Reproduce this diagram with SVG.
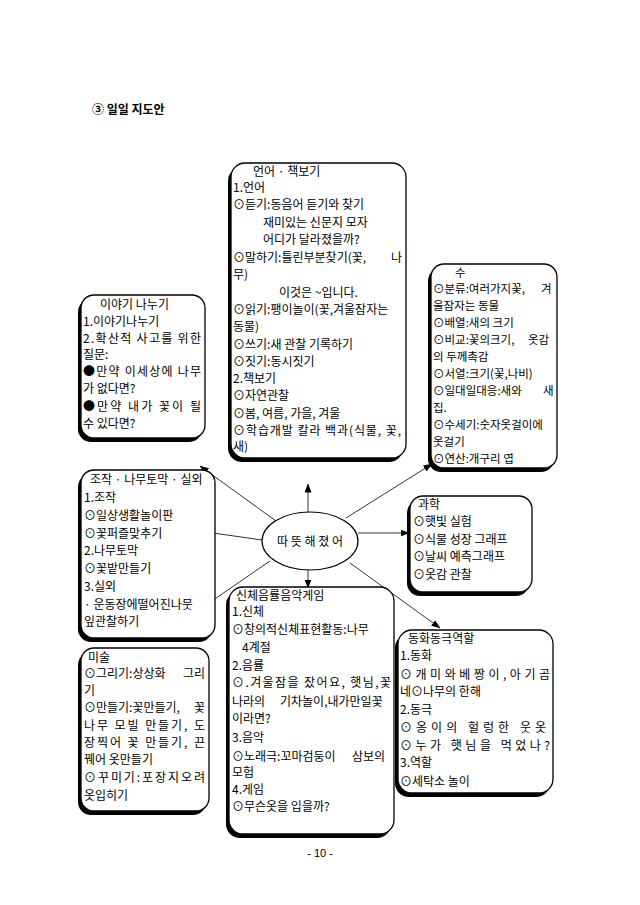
<svg xmlns="http://www.w3.org/2000/svg" width="640" height="905" viewBox="0 0 640 905">
<style>
.t{font-family:"Noto Sans CJK KR","Noto Sans",sans-serif;font-size:12px;fill:#000}
.s{font-size:11.5px}
.box{fill:#fff;stroke:#000;stroke-width:1.3}
.sh{fill:#000}
.ln{stroke:#333;stroke-width:1;fill:none;marker-end:url(#ah)}
</style>
<defs>
<marker id="ah" markerWidth="9" markerHeight="7" refX="8.5" refY="3.5" orient="auto" markerUnits="userSpaceOnUse">
<path d="M0,0 L9,3.5 L0,7 Z" fill="#000"/>
</marker>
</defs>
<rect width="640" height="905" fill="#fff"/>
<text class="t" x="92" y="114" font-weight="bold">③ 일일 지도안</text>

<g id="connectors">
<path class="ln" d="M308,512 L308,484"/>
<path class="ln" d="M346,518 L432,464"/>
<path class="ln" d="M358,533 L409,533"/>
<path class="ln" d="M350,563 L440,628"/>
<path class="ln" d="M308,570 L308,588"/>
<path class="ln" d="M270,561 L158,638"/>
<path class="ln" d="M262,540 L206,532"/>
<path class="ln" d="M276,521 L200,466"/>
</g>

<g id="center">
<ellipse cx="310" cy="541" rx="48" ry="29" fill="#fff" stroke="#000" stroke-width="1.2"/>
<text class="t" x="310" y="546" text-anchor="middle" font-size="11">따 뜻 해 졌 어</text>
</g>

<g id="lang">
<rect class="sh" x="228" y="167" width="175" height="295" rx="14"/>
<rect class="box" x="231" y="163" width="175" height="295" rx="14"/>
<text class="t" x="253" y="176">언어 · 책보기</text>
<text class="t" x="233" y="192">1.언어</text>
<text class="t" x="233" y="209">⊙듣기:동음어 듣기와 찾기</text>
<text class="t" x="263" y="227">재미있는 신문지 모자</text>
<text class="t" x="263" y="244">어디가 달라졌을까?</text>
<text class="t" x="233" y="262">⊙말하기:틀린부분찾기(꽃,<tspan x="391">나</tspan></text>
<text class="t" x="233" y="279">무)</text>
<text class="t" x="279" y="297">이것은 ~입니다.</text>
<text class="t" x="233" y="314">⊙읽기:팽이놀이(꽃,겨울잠자는</text>
<text class="t" x="233" y="331">동물)</text>
<text class="t" x="233" y="349">⊙쓰기:새 관찰 기록하기</text>
<text class="t" x="233" y="366">⊙짓기:동시짓기</text>
<text class="t" x="233" y="383">2.책보기</text>
<text class="t" x="233" y="400">⊙자연관찰</text>
<text class="t" x="233" y="418">⊙봄, 여름, 가을, 겨울</text>
<text class="t" x="233" y="435" textLength="168" lengthAdjust="spacing">⊙학습개발 칼라 백과(식물, 꽃,</text>
<text class="t" x="233" y="451">새)</text>
</g>

<g id="math">
<rect class="sh" x="428" y="268" width="126" height="204" rx="13"/>
<rect class="box" x="431" y="264" width="126" height="204" rx="13"/>
<text class="t s" x="455" y="277">수</text>
<text class="t s" x="433" y="293">⊙분류:여러가지꽃,<tspan x="541">겨</tspan></text>
<text class="t s" x="433" y="310">울잠자는 동물</text>
<text class="t s" x="433" y="327">⊙배열:새의 크기</text>
<text class="t s" x="433" y="344">⊙비교:꽃의크기,<tspan x="528">옷감</tspan></text>
<text class="t s" x="433" y="361">의 두께촉감</text>
<text class="t s" x="433" y="378">⊙서열:크기(꽃,나비)</text>
<text class="t s" x="433" y="395">⊙일대일대응:새와<tspan x="543">새</tspan></text>
<text class="t s" x="433" y="412">집.</text>
<text class="t s" x="433" y="429">⊙수세기:숫자옷걸이에</text>
<text class="t s" x="433" y="446">옷걸기</text>
<text class="t s" x="433" y="463">⊙연산:개구리 엽</text>
</g>

<g id="talk">
<rect class="sh" x="78" y="299" width="124" height="143" rx="13"/>
<rect class="box" x="81" y="295" width="124" height="143" rx="13"/>
<text class="t" x="100" y="309">이야기 나누기</text>
<text class="t" x="83" y="326">1.이야기나누기</text>
<text class="t" x="83" y="343" textLength="118" lengthAdjust="spacing">2.확산적 사고를 위한</text>
<text class="t" x="83" y="359">질문:</text>
<text class="t" x="83" y="376" textLength="118" lengthAdjust="spacing">●만약 이세상에 나무</text>
<text class="t" x="83" y="393">가 없다면?</text>
<text class="t" x="83" y="411" textLength="118" lengthAdjust="spacing">●만약 내가 꽃이 될</text>
<text class="t" x="83" y="428">수 있다면?</text>
</g>

<g id="manip">
<rect class="sh" x="78" y="474" width="134" height="168" rx="13"/>
<rect class="box" x="81" y="470" width="134" height="168" rx="13"/>
<text class="t" x="90" y="484">조작 · 나무토막 · 실외</text>
<text class="t" x="84" y="502">1.조작</text>
<text class="t" x="84" y="520">⊙일상생활놀이판</text>
<text class="t" x="84" y="538">⊙꽃퍼즐맞추기</text>
<text class="t" x="84" y="555">2.나무토막</text>
<text class="t" x="84" y="573">⊙꽃밭만들기</text>
<text class="t" x="84" y="591">3.실외</text>
<text class="t" x="84" y="609"> · 운동장에떨어진나뭇</text>
<text class="t" x="84" y="626">잎관찰하기</text>
</g>

<g id="science">
<rect class="sh" x="407" y="500" width="122" height="96" rx="13"/>
<rect class="box" x="410" y="496" width="122" height="96" rx="13"/>
<text class="t" x="418" y="509">과학</text>
<text class="t" x="413" y="526">⊙햇빛 실험</text>
<text class="t" x="413" y="544">⊙식물 성장 그래프</text>
<text class="t" x="413" y="561">⊙날씨 예측그래프</text>
<text class="t" x="413" y="579">⊙옷감 관찰</text>
</g>

<g id="art">
<rect class="sh" x="78" y="652" width="128" height="163" rx="13"/>
<rect class="box" x="81" y="648" width="128" height="163" rx="13"/>
<text class="t" x="88" y="662">미술</text>
<text class="t" x="84" y="678">⊙그리기:상상화<tspan x="183">그리</tspan></text>
<text class="t" x="84" y="695">기</text>
<text class="t" x="84" y="712">⊙만들기:꽃만들기,<tspan x="194">꽃</tspan></text>
<text class="t" x="84" y="730" textLength="121" lengthAdjust="spacing">나무 모빌 만들기, 도</text>
<text class="t" x="84" y="747" textLength="121" lengthAdjust="spacing">장찍어 꽃 만들기, 끈</text>
<text class="t" x="84" y="764">꿰어 옷만들기</text>
<text class="t" x="84" y="782" textLength="121" lengthAdjust="spacing">⊙꾸미기:포장지오려</text>
<text class="t" x="84" y="800">옷입히기</text>
</g>

<g id="body">
<rect class="sh" x="226" y="591" width="165" height="247" rx="14"/>
<rect class="box" x="229" y="587" width="165" height="247" rx="14"/>
<text class="t" x="236" y="600">신체음률음악게임</text>
<text class="t" x="232" y="616">1.신체</text>
<text class="t" x="232" y="634">⊙창의적신체표현활동:나무</text>
<text class="t" x="242" y="652">4계절</text>
<text class="t" x="232" y="670">2.음률</text>
<text class="t" x="232" y="687" textLength="159" lengthAdjust="spacing">⊙.겨울잠을 잤어요, 햇님,꽃</text>
<text class="t" x="232" y="706">나라의<tspan x="280">기차놀이,내가만일꽃</tspan></text>
<text class="t" x="232" y="723">이라면?</text>
<text class="t" x="232" y="742">3.음악</text>
<text class="t" x="232" y="761">⊙노래극:꼬마검둥이<tspan x="352">삼보의</tspan></text>
<text class="t" x="232" y="777">모험</text>
<text class="t" x="232" y="794">4.게임</text>
<text class="t" x="232" y="811">⊙무슨옷을 입을까?</text>
</g>

<g id="story">
<rect class="sh" x="395" y="634" width="155" height="163" rx="14"/>
<rect class="box" x="398" y="630" width="155" height="163" rx="14"/>
<text class="t" x="408" y="643">동화동극역할</text>
<text class="t" x="400" y="660">1.동화</text>
<text class="t" x="400" y="679" textLength="150" lengthAdjust="spacing">⊙개미와베짱이,아기곰</text>
<text class="t" x="400" y="696">네⊙나무의 한해</text>
<text class="t" x="400" y="714">2.동극</text>
<text class="t" x="400" y="732" textLength="146" lengthAdjust="spacing">⊙옹이의 헐렁한 웃옷</text>
<text class="t" x="400" y="750" textLength="150" lengthAdjust="spacing">⊙누가 햇님을 먹었나?</text>
<text class="t" x="400" y="767">3.역할</text>
<text class="t" x="400" y="786">⊙세탁소 놀이</text>
</g>

<text x="320" y="857" text-anchor="middle" font-family="Liberation Sans, sans-serif" font-size="11" fill="#000">- 10 -</text>
</svg>
